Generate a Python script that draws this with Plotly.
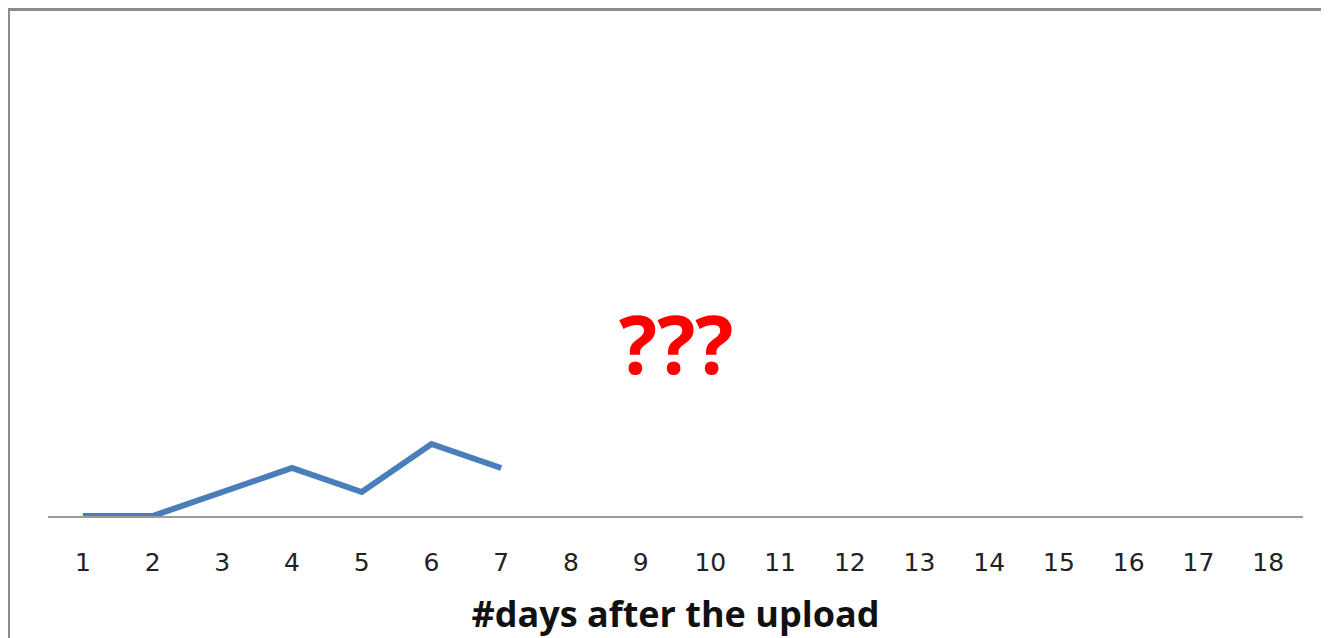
import plotly.graph_objects as go

days = [str(d) for d in range(1, 19)]
observed_days = ["1", "2", "3", "4", "5", "6", "7"]
observed_values = [0, 0, 1, 2, 1, 3, 2]
axis_title = "#days after the upload"
unknown_label = "???"

fig = go.Figure()
fig.add_trace(go.Scatter(
    x=observed_days, y=observed_values, mode="lines",
    line=dict(color="#4a7ebb", width=6), hoverinfo="skip", showlegend=False,
))

# page has an 8px body margin; work in figure coordinates
OFF = 8
W, H = 1329 - OFF, 638 - OFF
L, R, T, B = 48 - OFF, 26, 60 - OFF, 122
pw, ph = W - L - R, H - T - B

def px_x(p):
    return (p - OFF - L) / pw

def px_y(p):
    return (H - B - (p - OFF)) / ph

fig.update_layout(
    width=W, height=H,
    margin=dict(l=L, r=R, t=T, b=B, autoexpand=False),
    paper_bgcolor="white", plot_bgcolor="white",
    font=dict(family="DejaVu Sans", color="#222"),
    xaxis=dict(
        type="category", categoryorder="array", categoryarray=days,
        tickvals=days, ticktext=days,
        range=[-0.5, len(days) - 0.5],
        showline=True, linecolor="#9a9a9a", linewidth=1.5,
        showgrid=False, zeroline=False, automargin=False,
        ticks="outside", ticklen=0, ticklabelstandoff=23,
        tickfont=dict(size=25, color="#222", family="DejaVu Sans"),
        title=dict(text="<b>" + axis_title + "</b>", standoff=32,
                   font=dict(size=36, color="#111", family="Open Sans")),
    ),
    yaxis=dict(range=[0, 19], visible=False, showgrid=False, zeroline=False),
    shapes=[
        dict(type="line", xref="paper", yref="paper",
             x0=px_x(8.5), x1=px_x(8.5), y0=px_y(9.5), y1=px_y(700),
             line=dict(color="#8c8c8c", width=3)),
        dict(type="line", xref="paper", yref="paper",
             x0=px_x(7), x1=px_x(1340), y0=px_y(9.5), y1=px_y(9.5),
             line=dict(color="#8c8c8c", width=3)),
    ],
    annotations=[
        dict(text="<b>" + unknown_label + "</b>", xref="paper", yref="paper",
             x=px_x(676), y=px_y(342), showarrow=False,
             xanchor="center", yanchor="middle",
             font=dict(size=80, color="#ff0000", family="Open Sans")),
    ],
)

fig.write_html("out.html")
